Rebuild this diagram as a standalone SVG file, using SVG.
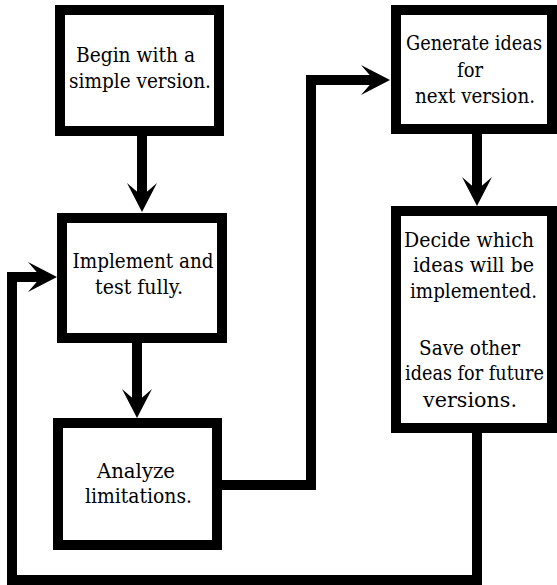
<svg xmlns="http://www.w3.org/2000/svg" width="557" height="585" viewBox="0 0 557 585">
  <style>
    .box { fill: #fff; stroke: #000; stroke-width: 10; }
    .lbl { font-family: 'DejaVu Serif', serif; font-size: 21px; fill: #000; text-anchor: middle; }
    .link { fill: none; stroke: #000; stroke-width: 10; stroke-linejoin: miter; stroke-linecap: butt; }
  </style>
  <defs>
    <!-- notched arrowhead; the path ends at the notch (0,0) -->
    <marker id="arrow" markerUnits="userSpaceOnUse" viewBox="-14 -16 32 32" refX="0" refY="0" markerWidth="32" markerHeight="32" orient="auto">
      <path d="M 16 0 L -13 -15 L 0 0 L -13 15 Z" fill="#000"/>
    </marker>
  </defs>
  <rect width="557" height="585" fill="#fff"/>

  <g id="connectors">
    <path class="link" d="M 142 136 V 196" marker-end="url(#arrow)"/>
    <path class="link" d="M 137 343 V 402" marker-end="url(#arrow)"/>
    <path class="link" d="M 222 485 H 311 V 80 H 374" marker-end="url(#arrow)"/>
    <path class="link" d="M 477 134 V 190" marker-end="url(#arrow)"/>
    <path class="link" d="M 477 433 V 580 H 12 V 277 H 41" marker-end="url(#arrow)"/>
  </g>

  <g id="begin">
    <rect class="box" x="60" y="10" width="159" height="121"/>
    <text class="lbl" x="135.5" y="62" textLength="119" lengthAdjust="spacingAndGlyphs">Begin with a</text>
    <text class="lbl" x="140" y="88" textLength="142" lengthAdjust="spacingAndGlyphs">simple version.</text>
  </g>

  <g id="implement">
    <rect class="box" x="62" y="218" width="160" height="120"/>
    <text class="lbl" x="143" y="268" textLength="141" lengthAdjust="spacingAndGlyphs">Implement and</text>
    <text class="lbl" x="139" y="294" textLength="88" lengthAdjust="spacingAndGlyphs">test fully.</text>
  </g>

  <g id="analyze">
    <rect class="box" x="58" y="423" width="159" height="122"/>
    <text class="lbl" x="136" y="478" textLength="78" lengthAdjust="spacingAndGlyphs">Analyze</text>
    <text class="lbl" x="138.5" y="503" textLength="107" lengthAdjust="spacingAndGlyphs">limitations.</text>
  </g>

  <g id="generate">
    <rect class="box" x="396" y="10" width="156" height="119"/>
    <text class="lbl" x="474" y="50" textLength="136" lengthAdjust="spacingAndGlyphs">Generate ideas</text>
    <text class="lbl" x="470" y="77" textLength="26" lengthAdjust="spacingAndGlyphs">for</text>
    <text class="lbl" x="475" y="103" textLength="120" lengthAdjust="spacingAndGlyphs">next version.</text>
  </g>

  <g id="decide">
    <rect class="box" x="396" y="211" width="156" height="217"/>
    <text class="lbl" x="469" y="247" textLength="130" lengthAdjust="spacingAndGlyphs">Decide which</text>
    <text class="lbl" x="473.5" y="272" textLength="121" lengthAdjust="spacingAndGlyphs">ideas will be</text>
    <text class="lbl" x="473.5" y="298" textLength="127" lengthAdjust="spacingAndGlyphs">implemented.</text>
    <text class="lbl" x="469.5" y="355" textLength="101" lengthAdjust="spacingAndGlyphs">Save other</text>
    <text class="lbl" x="474.5" y="380" textLength="139" lengthAdjust="spacingAndGlyphs">ideas for future</text>
    <text class="lbl" x="470" y="407" textLength="94" lengthAdjust="spacingAndGlyphs">versions.</text>
  </g>
</svg>
